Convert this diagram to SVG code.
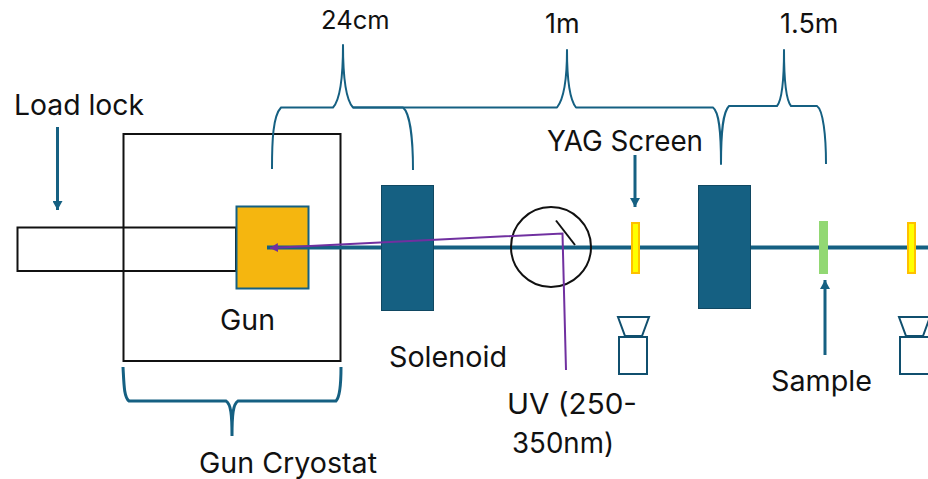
<svg xmlns="http://www.w3.org/2000/svg" width="928" height="479" viewBox="0 0 928 479">
<style>
text{font-family:Inter,"Liberation Sans",sans-serif;font-size:28px;fill:#111}
.n{font-size:25.500px}
.m{font-size:27px}
.k{fill:none;stroke:#111;stroke-width:2}
.b{fill:none;stroke:#156082;stroke-width:2;stroke-linejoin:round}
.a{fill:none;stroke:#156082;stroke-width:3;marker-end:url(#ah)}
.p{fill:none;stroke:#7030a0;stroke-width:2}
.s{fill:#156082;stroke:#104862;stroke-width:1}
.y{fill:#ffff00;stroke:#ffc000;stroke-width:2}
.c{fill:#fff;stroke:#104f6e;stroke-width:2}
</style>
<defs>
<marker id="ah" markerUnits="userSpaceOnUse" markerWidth="10" markerHeight="10" refX="9" refY="5" orient="auto"><path d="M0 0L9 5L0 10Z" fill="#156082"/></marker>
<marker id="ph" markerUnits="userSpaceOnUse" markerWidth="9" markerHeight="9" refX="8" refY="4.5" orient="auto"><path d="M0 0L8 4.5L0 9Z" fill="#7030a0"/></marker>
</defs>
<rect width="928" height="479" fill="#fff"/>
<g id="cryostat"><rect class="k" x="123.500" y="134" width="217" height="227"/></g>
<g id="loadlock"><rect class="k" x="17.500" y="227.500" width="218.500" height="43.500"/></g>
<g id="gun"><rect x="236.500" y="206.500" width="72" height="82" fill="#f5b60f" stroke="#156082" stroke-width="2"/></g>
<g id="connectors">
<path d="M267 247.500H928" stroke="#156082" stroke-width="4" fill="none"/>
<path class="b" d="M272 169C272 140 273 116 281 107.500H333C340 100 343 80 343 45C343 80 346 100 353 107.500H403C410 113 413 140 413 170"/>
<path class="b" d="M353 107.500H557C563 100 567 80 567 50C567 80 570 100 576 107.500H713C719 112 721 130 721 164C721 130 723 112 729 106H777C782 100 784 80 784 50C784 80 786 100 791 106H817C823 110 826 135 826 164"/>
<path d="M123 367C124 385 124 397 129 401H226C231 404 232 415 232 436C232 415 233 404 238 401H336C340 397 341 385 341 367" fill="none" stroke="#156082" stroke-width="3"/>
<path class="a" d="M57.500 127V210"/>
<path class="a" d="M635 155V207"/>
<path class="a" d="M825 355V280"/>
</g>
<g id="solenoid1"><rect class="s" x="381.500" y="185.500" width="52" height="125"/></g>
<g id="solenoid2"><rect class="s" x="698.500" y="185.500" width="52" height="123"/></g>
<g id="yag1"><rect class="y" x="632" y="223" width="7" height="50"/></g>
<g id="sample"><rect x="819" y="221" width="9" height="53" fill="#92d873"/></g>
<g id="yag2"><rect class="y" x="908" y="223" width="7" height="50"/></g>
<g id="camera1"><path class="c" d="M618 317H649L642 336H625Z"/><rect class="c" x="619" y="337" width="28" height="37"/></g>
<g id="camera2"><path class="c" d="M899 317H930L923 336H906Z"/><rect class="c" x="900" y="337" width="30" height="37"/></g>
<g id="mirror"><circle cx="551" cy="247" r="40" fill="none" stroke="#111" stroke-width="2"/><path d="M556 220.500L575 245" fill="none" stroke="#111" stroke-width="2"/></g>
<g id="uv"><path class="p" d="M566 370L562.500 233.500L270 248" marker-end="url(#ph)"/></g>
<g id="labels">
<text class="n" x="321" y="29">24cm</text>
<text class="m" x="545" y="33">1m</text>
<text class="m" x="780" y="33">1.5m</text>
<text x="547" y="151" textLength="156" lengthAdjust="spacingAndGlyphs">YAG Screen</text>
<text x="14" y="115" textLength="130" lengthAdjust="spacingAndGlyphs">Load lock</text>
<text x="220" y="330" textLength="55" lengthAdjust="spacingAndGlyphs">Gun</text>
<text x="389" y="367" textLength="118" lengthAdjust="spacingAndGlyphs">Solenoid</text>
<text x="507" y="414" textLength="130" lengthAdjust="spacingAndGlyphs">UV (250-</text>
<text x="512" y="453" textLength="102" lengthAdjust="spacingAndGlyphs">350nm)</text>
<text x="771" y="391" textLength="101" lengthAdjust="spacingAndGlyphs">Sample</text>
<text x="199" y="473" textLength="178" lengthAdjust="spacingAndGlyphs">Gun Cryostat</text>
</g>
</svg>
